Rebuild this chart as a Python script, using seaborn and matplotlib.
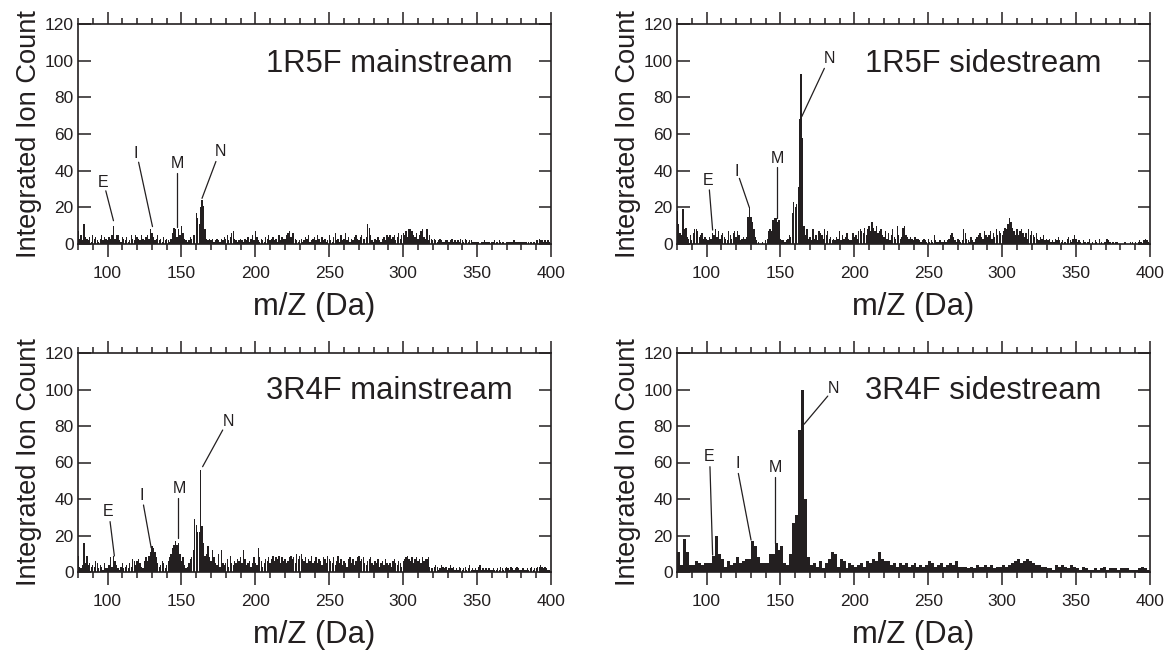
import numpy as np
import pandas as pd
import matplotlib
matplotlib.use("Agg")
import matplotlib.pyplot as plt
from matplotlib.ticker import MultipleLocator
import seaborn as sns

# ---------------- data ----------------
mz_1da = np.arange(80, 400)          # 1 Da bins
mz_2da = np.arange(80, 400, 2)       # 2 Da bins

r1_main = [
    7,3,5,2,11,4,3,2,4,1,  5,3,4,2,1,3,5,2,4,3,  2,4,3,5,10,3,5,5,2,1,  4,3,2,4,1,2,5,3,2,5,
    4,3,2,5,3,2,4,5,3,8,  6,4,2,3,5,2,3,1,4,2,  3,2,1,3,6,9,8,4,8,5,  10,6,3,2,1,2,4,3,5,5,
    17,14,11,20,24,21,8,3,2,3,  2,3,1,2,3,2,1,3,2,4,  3,5,2,4,6,7,3,2,1,2,  3,2,1,3,2,4,1,3,5,2,
    7,4,2,1,3,2,1,4,3,5,  2,3,4,2,3,1,5,2,4,3,  3,5,6,7,4,6,6,3,2,1,  2,3,1,2,4,3,5,1,2,3,
    4,2,5,3,1,4,2,3,1,2,  5,2,1,4,6,2,3,1,5,2,  3,6,2,4,1,3,2,4,5,3,  2,4,5,3,3,4,11,9,5,2,
    1,3,2,4,2,1,3,4,2,5,  4,5,3,4,5,2,4,6,3,5,  6,5,7,4,8,8,7,5,4,6,  3,5,7,8,4,3,8,2,5,3,
    2,3,2,1,2,3,2,1,1,2,  2,1,2,3,1,2,1,2,1,3,  2,1,3,2,1,2,2,1,1,1,  1,1,0,1,1,2,1,1,1,0,
    1,1,2,1,1,2,1,1,1,0,  1,1,1,1,1,2,1,1,1,1,  1,1,1,1,0,1,1,1,1,1,  2,2,3,2,2,1,2,1,2,1,
]

r1_side = [
    18,11,6,5,19,8,9,4,3,5,  2,6,8,8,7,4,5,6,3,4,  3,2,4,3,6,5,8,4,7,3,  5,6,4,3,2,7,5,3,6,7,
    4,7,5,2,3,4,3,4,15,20,  15,12,8,4,2,1,0,0,1,0,  2,3,7,8,7,13,14,14,12,13,  3,2,2,1,2,3,5,4,17,23,
    20,22,31,68,93,58,10,5,8,3,  4,2,8,3,5,2,7,6,5,3,  8,5,7,3,4,2,3,2,4,3,  7,2,5,3,4,6,3,2,2,6,
    4,5,3,7,8,7,6,9,5,8,  10,7,12,9,7,10,6,7,8,5,  4,7,3,6,2,5,8,4,3,10,  5,3,4,9,10,5,4,3,4,3,
    2,4,3,3,2,1,2,3,2,1,  3,1,2,1,5,2,1,1,2,1,  1,2,1,2,3,5,6,4,2,1,  3,2,1,2,8,6,3,2,1,4,
    2,1,3,4,5,6,4,3,7,5,  4,5,7,3,6,4,8,5,7,6,  5,7,9,8,11,14,12,9,7,5,  8,5,7,8,6,4,6,3,8,5,
    7,5,4,6,3,2,4,3,5,2,  3,2,3,1,2,1,3,2,4,2,  1,2,1,1,3,4,2,1,3,5,  3,1,2,1,0,2,1,0,1,3,
    0,1,0,2,1,0,3,1,0,1,  1,3,2,1,0,1,0,1,1,0,  0,0,0,1,0,0,0,1,1,0,  1,0,1,2,1,0,2,3,2,1,
]

r3_main = [
    9,3,2,4,16,5,9,4,5,3,  4,3,6,5,2,4,3,1,5,2,  2,4,8,3,9,6,4,2,1,3,  5,2,3,4,2,5,3,7,6,4,
    6,7,5,3,2,6,8,6,9,11,  14,13,11,8,5,3,4,6,5,2,  4,6,8,10,13,15,17,15,16,10,  6,8,4,2,3,5,7,8,12,29,
    26,22,22,56,25,16,9,10,14,8,  6,12,8,5,4,10,3,12,5,4,  5,7,3,9,5,4,6,5,7,6,  8,5,12,7,4,5,6,3,5,8,
    5,4,13,8,6,3,5,7,6,8,  5,7,9,6,8,7,9,5,8,6,  7,5,6,8,9,7,8,5,10,7,  9,10,7,6,8,5,7,6,9,5,
    6,8,5,7,6,4,8,7,5,9,  7,6,5,8,4,6,9,5,7,4,  6,5,3,7,8,5,7,4,6,8,  9,6,7,8,5,4,6,7,8,5,
    4,6,5,7,3,5,6,4,7,5,  4,5,3,6,7,5,4,6,5,3,  6,7,8,9,7,6,8,5,7,8,  6,7,5,8,6,7,7,8,3,2,
    2,3,4,3,1,2,4,3,2,3,  1,2,4,2,3,1,2,1,3,2,  1,2,3,1,2,4,1,2,1,2,  1,3,4,1,2,1,2,1,2,1,
    1,2,1,1,2,1,3,2,1,2,  3,2,1,3,2,1,2,3,2,1,  1,2,1,1,2,1,2,3,1,2,  2,3,3,4,3,2,3,2,1,1,
]

r3_side = [
    11,4,18,11,4,4,6,5,4,5,  5,5,9,20,10,7,3,6,4,5,  8,5,6,7,7,17,14,8,5,5,
    5,10,10,16,12,14,5,4,10,27,  31,78,100,40,8,4,5,3,6,2,  5,7,11,10,3,7,6,2,5,4,
    3,4,5,3,6,5,7,6,11,7,  6,6,4,5,3,5,4,5,3,4,  5,3,4,3,4,6,5,3,4,5,
    3,4,5,4,6,3,3,3,2,3,  2,4,3,3,4,3,4,2,3,3,  4,3,4,5,6,7,5,6,7,6,
    5,4,4,3,3,2,2,1,4,3,  4,3,2,4,3,2,1,3,2,1,  1,2,1,2,3,1,2,2,2,1,
    2,2,2,1,1,1,2,3,2,1,
]

titles = ["1R5F mainstream", "1R5F sidestream", "3R4F mainstream", "3R4F sidestream"]
peak_labels = ["E", "I", "M", "N"]
x_label = "m/Z (Da)"
y_label = "Integrated Ion Count"

# ---------------- layout / style ----------------
sns.set_style("ticks")
plt.rcParams["font.family"] = ["Liberation Sans", "DejaVu Sans"]
ink = "#231f20"

fig = plt.figure(figsize=(11.66, 6.53), dpi=100)
W, H = 1166, 653
rects = [
    (78, 24, 551, 244), (677, 24, 1150, 244),
    (78, 353, 551, 572), (677, 353, 1150, 572),
]

panels = [
    (mz_1da, r1_main, 1), (mz_1da, r1_side, 1),
    (mz_1da, r3_main, 1), (mz_2da, r3_side, 2),
]

# annotation layout: (text x, text y, line start x, y, line end x, y)
ann = [
    [(97.2, 33.4, 98.8, 29, 104, 12.7), (119.3, 49.5, 121, 44.6, 130.4, 9.5),
     (147.3, 44, 147.3, 39, 147.3, 9.5), (176.3, 50.4, 173.3, 45, 163.9, 24.9)],
    [(101.2, 34.9, 101.9, 29.5, 104.1, 7.6), (120.4, 39.4, 122.2, 35.8, 128.9, 20),
     (148.1, 46.7, 147.5, 42, 147.5, 14), (182.8, 101.3, 179.7, 95.8, 164.4, 69.5)],
    [(100.6, 33, 101.7, 27.6, 104.6, 8.8), (123.2, 41.8, 124.3, 36.7, 129.5, 13.3),
     (148.5, 45.8, 147.6, 40.4, 147.6, 18.5), (181.5, 82.7, 177.9, 77.8, 164.3, 57.7)],
    [(101.9, 63.2, 102.3, 57.7, 104.1, 9.3), (120.8, 59.5, 121.5, 54, 130.1, 17.5),
     (146.3, 57, 146.3, 52.2, 146.3, 16), (185.8, 100.6, 182, 96.4, 166, 81)],
]
title_x = [0.919, 0.898, 0.919, 0.898]
title_y = [0.82, 0.82, 0.826, 0.826]

for i, ((x0, y0, x1, y1), (mz, vals, bw), title) in enumerate(zip(rects, panels, titles)):
    ax = fig.add_axes([x0 / W, 1 - y1 / H, (x1 - x0) / W, (y1 - y0) / H])
    df = pd.DataFrame({"mz": mz, "count": vals})
    if bw == 1:
        nb, rng = 320, (79.5, 399.5)
    else:
        nb, rng = 160, (80, 400)
    sns.histplot(data=df, x="mz", weights="count", bins=nb, binrange=rng, ax=ax,
                 color=ink, alpha=1, linewidth=0, shrink=0.9 if bw == 1 else 1.0)
    ax.set_xlim(80, 400)
    ax.set_ylim(0, 120)
    ax.xaxis.set_major_locator(MultipleLocator(50))
    ax.xaxis.set_minor_locator(MultipleLocator(10))
    ax.yaxis.set_major_locator(MultipleLocator(20))
    ax.tick_params(axis="x", which="major", direction="out", length=9, width=1.1,
                   top=True, bottom=True, labelsize=12.5, colors=ink, pad=7)
    ax.tick_params(axis="x", which="minor", direction="out", length=4.5, width=1.1,
                   top=True, bottom=True, colors=ink)
    ax.tick_params(axis="y", which="major", direction="in", length=9, width=1.1,
                   left=True, right=True, labelsize=12.5, colors=ink, pad=3)
    for s in ax.spines.values():
        s.set_visible(True)
        s.set_linewidth(1.2)
        s.set_color(ink)
    ax.set_xlabel(x_label, fontsize=22.3, color=ink, labelpad=8)
    ax.set_ylabel(y_label, fontsize=19.6, color=ink, labelpad=2)
    ax.text(title_x[i], title_y[i], title, transform=ax.transAxes, ha="right",
            va="center", fontsize=22.3, color=ink)
    for lab, (tx, ty, sx, sy, ex, ey) in zip(peak_labels, ann[i]):
        ax.text(tx, ty, lab, ha="center", va="center", fontsize=11.5, color=ink)
        ax.plot([sx, ex], [sy, ey], color=ink, lw=0.9)

fig.savefig("out.png", dpi=100)
